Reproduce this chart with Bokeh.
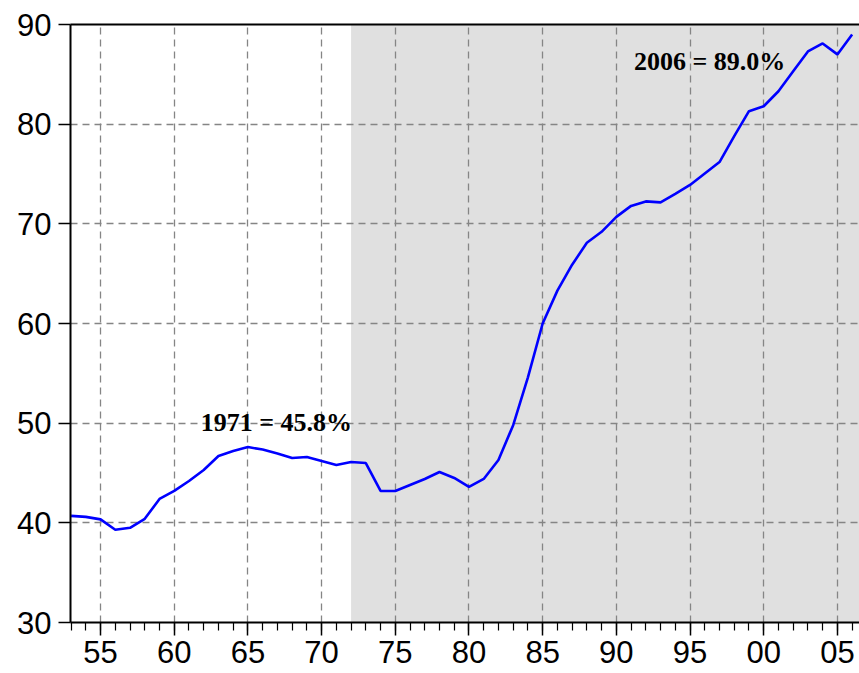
from bokeh.plotting import figure
from bokeh.models import FixedTicker, BoxAnnotation, Label, Range1d, LinearAxis
from bokeh.embed import file_html
from bokeh.resources import INLINE

years = list(range(1953, 2007))
values = [40.7, 40.6, 40.35, 39.3, 39.5, 40.4, 42.4, 43.2, 44.2, 45.3,
          46.7, 47.2, 47.6, 47.35, 46.95, 46.5, 46.6, 46.2, 45.8, 46.1,
          46.0, 43.2, 43.2, 43.8, 44.4, 45.1, 44.5, 43.6, 44.4, 46.3,
          49.8, 54.6, 60.0, 63.3, 65.9, 68.1, 69.2, 70.7, 71.8, 72.25,
          72.15, 73.0, 73.9, 75.05, 76.2, 78.8, 81.3, 81.8, 83.3, 85.3,
          87.3, 88.1, 87.0, 89.0]

shade_start = 1972
x_major = [1955, 1960, 1965, 1970, 1975, 1980, 1985, 1990, 1995, 2000, 2005]
x_labels = ["55", "60", "65", "70", "75", "80", "85", "90", "95", "00", "05"]
y_major = [30, 40, 50, 60, 70, 80, 90]

ann1_text = "1971 = 45.8%"
ann1_pos = (1961.8, 50.1)
ann2_text = "2006 = 89.0%"
ann2_pos = (1991.2, 86.3)

p = figure(width=859, height=673, output_backend="svg", toolbar_location=None,
           x_range=Range1d(1952.96, 2006.5), y_range=Range1d(30, 90),
           min_border_left=70, min_border_right=0, min_border_top=24,
           min_border_bottom=51)

p.background_fill_color = "white"
p.border_fill_color = "white"
p.outline_line_color = None

shade = BoxAnnotation(left=shade_start, fill_color="#e0e0e0", fill_alpha=1.0,
                      line_alpha=0, level="image")
p.add_layout(shade)

p.line(years, values, line_color="#0000ff", line_width=2.6)

p.xaxis.ticker = FixedTicker(ticks=x_major, minor_ticks=years)
p.xaxis.major_label_overrides = {t: l for t, l in zip(x_major, x_labels)}
p.yaxis.ticker = FixedTicker(ticks=y_major, minor_ticks=[])

for ax in (p.xaxis, p.yaxis):
    ax.axis_line_color = "black"
    ax.axis_line_width = 2
    ax.major_tick_line_color = "black"
    ax.major_tick_line_width = 1.5
    ax.minor_tick_line_color = "black"
    ax.minor_tick_line_width = 1.2
    ax.major_tick_in = 0
    ax.minor_tick_in = 0
    ax.major_label_text_font = "Liberation Sans"
    ax.major_label_text_font_size = "31px"
    ax.major_label_text_color = "black"

p.xaxis.major_tick_out = 13
p.xaxis.minor_tick_out = 8
p.xaxis.major_label_standoff = 5
p.yaxis.major_tick_out = 12
p.yaxis.minor_tick_out = 0
p.yaxis.major_label_standoff = 7

top_axis = LinearAxis(ticker=FixedTicker(ticks=[], minor_ticks=[]),
                      axis_line_color="black", axis_line_width=2,
                      major_tick_out=0, minor_tick_out=0,
                      major_label_standoff=0)
p.add_layout(top_axis, "above")

p.grid.grid_line_color = "#858585"
p.grid.grid_line_dash = "7 5"
p.grid.grid_line_width = 1.3

for txt, (tx, ty) in ((ann1_text, ann1_pos), (ann2_text, ann2_pos)):
    p.add_layout(Label(x=tx, y=ty, text=txt, text_font="Liberation Serif",
                       text_font_style="bold", text_font_size="26px",
                       text_color="black", text_baseline="alphabetic"))

open("out.html", "w").write(file_html(p, INLINE))
